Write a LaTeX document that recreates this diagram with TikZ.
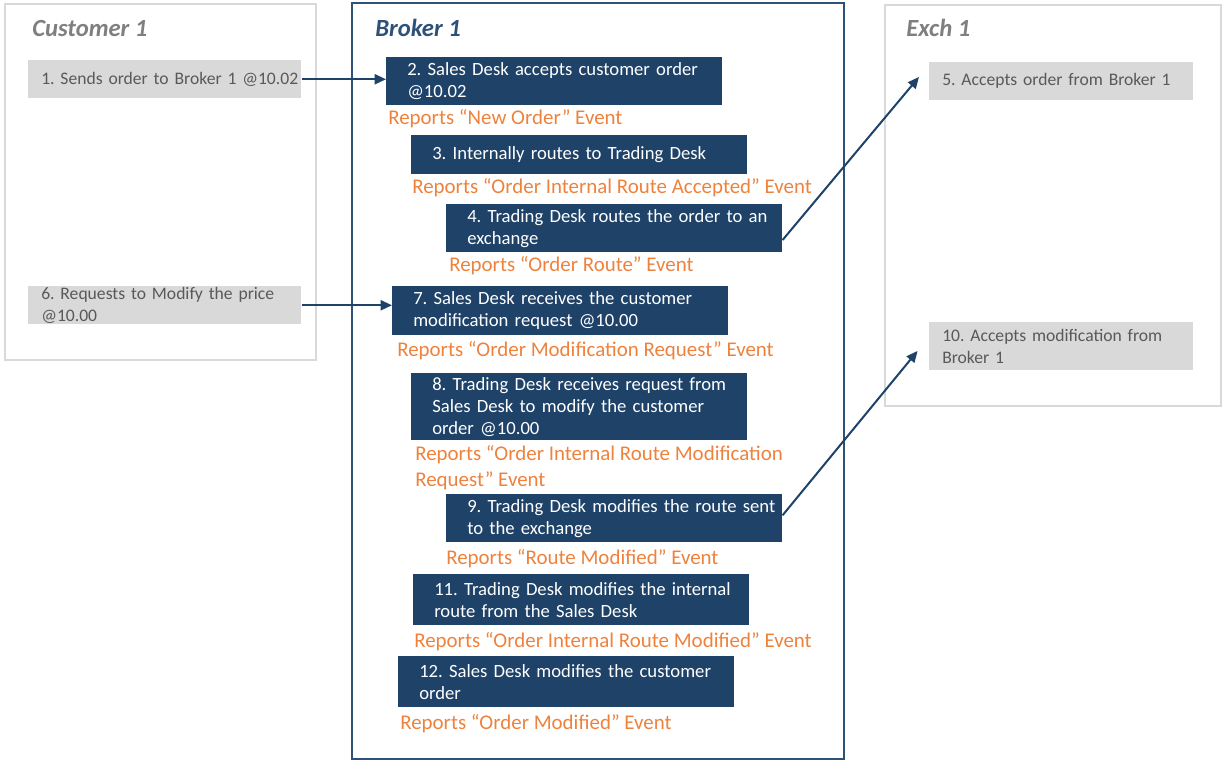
\documentclass[tikz,border=0pt]{standalone}
\usepackage{fontspec}
\setmainfont{Carlito}
\frenchspacing
\usetikzlibrary{arrows.meta}

\definecolor{navy}{RGB}{30,66,104}
\definecolor{frameblue}{RGB}{46,81,120}
\definecolor{rptorange}{RGB}{238,130,60}
\definecolor{boxgray}{RGB}{217,217,217}
\definecolor{txtgray}{RGB}{89,89,89}
\definecolor{titlegray}{RGB}{127,127,127}

\tikzset{
  dbox/.style={fill=navy, text=white, anchor=north west, inner sep=0pt,
    text width=252pt, minimum height=#1,
    font=\fontsize{14}{16.5}\selectfont,
    execute at begin node={\leftskip=15.75pt\rightskip=-20pt}},
  gbox/.style 2 args={fill=boxgray, text=txtgray, anchor=north west, inner sep=0pt,
    text width=#1, minimum height=#2,
    font=\fontsize{13.2}{16.5}\selectfont,
    execute at begin node={\leftskip=9.75pt\rightskip=-20pt}},
  rpt/.style={text=rptorange, anchor=west, inner sep=0pt, align=left,
    yshift=-1.5pt, font=\fontsize{15.7}{19.5}\selectfont},
  lane title/.style={anchor=west, inner sep=0pt,
    font=\fontsize{18.5}{21}\selectfont\bfseries\itshape},
  flow/.style={draw=navy, line width=1.5pt, -{Triangle[length=8.5pt,width=7.5pt]}}
}

\begin{document}
\begin{tikzpicture}[x=0.75pt,y=-0.75pt]
  \useasboundingbox (0,0) rectangle (1225,761);

  % lanes
  \draw [boxgray, line width=1.5pt] (5,4) rectangle (316,360);
  \draw [frameblue, line width=1.5pt] (352,3) rectangle (844,759);
  \draw [boxgray, line width=1.5pt] (885,5) rectangle (1221,406);
  \node [lane title, text=titlegray] (cust) at (32,28) {Customer 1};
  \node [lane title, text=frameblue] (brok) at (375,28) {Broker 1};
  \node [lane title, text=titlegray] (exch) at (906,28) {Exch 1};

  % customer
  \node [gbox={204.75pt}{28.5pt}] (b1) at (28,60) {1. Sends order to Broker 1 @10.02};
  \node [gbox={204.75pt}{28.5pt}] (b6) at (28,286) {6. Requests to Modify the price\\@10.00};

  % broker
  \node [dbox=36pt] (b2) at (386,57) {2. Sales Desk accepts customer order\\@10.02};
  \node [rpt] (r2) at (388,117) {Reports “New Order” Event};
  \node [dbox=29.25pt] (b3) at (411,135) {3. Internally routes to Trading Desk};
  \node [rpt] (r3) at (412,186) {Reports “Order Internal Route Accepted” Event};
  \node [dbox=36pt] (b4) at (446,204) {4. Trading Desk routes the order to an\\exchange};
  \node [rpt] (r4) at (449,264) {Reports “Order Route” Event};
  \node [dbox=36.75pt] (b7) at (392,286) {7. Sales Desk receives the customer\\modification request @10.00};
  \node [rpt] (r7) at (397,349) {Reports “Order Modification Request” Event};
  \node [dbox=50.25pt] (b8) at (411,373) {8. Trading Desk receives request from\\Sales Desk to modify the customer\\order @10.00};
  \node [rpt] (r8) at (415,466) {Reports “Order Internal Route Modification\\Request” Event};
  \node [dbox=36pt] (b9) at (446,494) {9. Trading Desk modifies the route sent\\to the exchange};
  \node [rpt] (r9) at (446,557) {Reports “Route Modified” Event};
  \node [dbox=38.25pt] (b11) at (413,574) {11. Trading Desk modifies the internal\\route from the Sales Desk};
  \node [rpt] (r11) at (414,640) {Reports “Order Internal Route Modified” Event};
  \node [dbox=38.25pt] (b12) at (398,656) {12. Sales Desk modifies the customer\\order};
  \node [rpt] (r12) at (400,722) {Reports “Order Modified” Event};

  % exchange
  \node [gbox={198pt}{28.5pt}] (b5) at (929,62) {5. Accepts order from Broker 1};
  \node [gbox={198pt}{36pt}] (b10) at (929,322) {10. Accepts modification from\\Broker 1};

  % messages
  \draw [flow] (b1.east) -- (b1.east -| b2.west);
  \draw [flow] (b6.east) -- (b6.east -| b7.west);
  \draw [flow, shorten >=11.7pt] (b4.-4) -- (b5.173.5);
  \draw [flow, shorten >=13.5pt] (b9.1) -- (b10.176.5);
\end{tikzpicture}
\end{document}
